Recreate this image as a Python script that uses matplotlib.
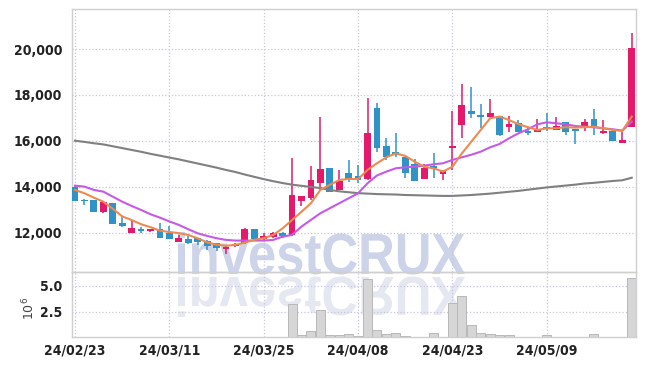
import matplotlib
matplotlib.use("Agg")
import matplotlib.pyplot as plt
import numpy as np
from matplotlib.textpath import TextPath
from matplotlib.patches import PathPatch
from matplotlib.font_manager import FontProperties
from matplotlib.ticker import FuncFormatter
import matplotlib.transforms as mtransforms

# daily candles, 24/02/23 .. 24/05/23 (trading days only)
opens = [14000, 13450, 13430, 12930, 13300, 12450, 12010, 12170, 12090, 12160,
         12010, 11620, 11750, 11780, 11660, 11550, 11320, 11410, 11550, 12170,
         11730, 11810, 12010, 11890, 13370, 13540, 14190, 14810, 13870, 14600,
         14480, 14340, 17420, 15780, 15530, 15290, 15000, 14360, 14900, 14570,
         15700, 16700, 17300, 17140, 17060, 17090, 16620, 16770, 16450, 16390,
         16590, 16480, 16810, 16510, 16620, 16960, 16340, 16430, 15930, 16620]
highs = [14040, 13480, 13450, 13400, 13320, 12700, 12560, 12250, 12190, 12420,
         12280, 11910, 11870, 11800, 11700, 11560, 11420, 11560, 12200, 12180,
         12010, 12060, 12060, 15250, 13620, 14910, 17030, 14830, 14740, 15170,
         14960, 17860, 17640, 16120, 16330, 15300, 15200, 15000, 15490, 14720,
         17320, 18480, 18360, 17610, 17810, 17100, 17100, 16910, 16550, 16960,
         17230, 17060, 16830, 16540, 16940, 17380, 16910, 16440, 16400, 20700]
lows = [13380, 13220, 12900, 12850, 12400, 12270, 12000, 12010, 12060, 11780,
        11720, 11600, 11540, 11480, 11260, 11220, 11090, 11380, 11520, 11720,
        11700, 11780, 11800, 11870, 13170, 13430, 13870, 13780, 13850, 14230,
        14160, 14300, 15530, 15170, 15290, 14380, 14260, 14350, 14380, 14300,
        14740, 16120, 17010, 16560, 17040, 16220, 16400, 16390, 16260, 16380,
        16450, 16470, 16260, 15870, 16430, 16260, 16290, 16000, 15920, 16600]
closes = [13400, 13400, 12930, 13350, 12400, 12320, 12230, 12090, 12170, 11800,
          11730, 11780, 11550, 11620, 11410, 11360, 11400, 11520, 12170, 11740,
          11870, 11990, 11850, 13650, 13610, 14300, 14770, 13800, 14260, 14310,
          14310, 16360, 15680, 15320, 15390, 14620, 14270, 14840, 14820, 14700,
          15770, 17560, 17160, 17060, 17230, 16260, 16740, 16400, 16360, 16510,
          16510, 16650, 16400, 16450, 16830, 16580, 16440, 16020, 16040, 20030]
volumes = [0.01, 0.01, 0.01, 0.01, 0.08, 0.01, 0.01, 0.01, 0.01, 0.01,
           0.06, 0.01, 0.01, 0.01, 0.01, 0.01, 0.01, 0.01, 0.06, 0.01,
           0.01, 0.01, 0.01, 3.19, 0.20, 0.62, 2.64, 0.24, 0.20, 0.34,
           0.17, 5.63, 0.72, 0.34, 0.40, 0.10, 0.05, 0.05, 0.40, 0.05,
           3.29, 3.99, 1.20, 0.40, 0.31, 0.24, 0.20, 0.08, 0.08, 0.05,
           0.20, 0.06, 0.05, 0.05, 0.06, 0.34, 0.06, 0.05, 0.05, 5.69]

# moving averages as drawn on the chart
ma_short = [13870, 13725, 13535, 13360, 13050, 12720, 12560, 12380, 12250, 12100,
            12040, 11990, 11910, 11770, 11590, 11490, 11440, 11480, 11580, 11700,
            11770, 11910, 12200, 12560, 12920, 13290, 13870, 14090, 14300, 14350,
            14340, 14740, 15030, 15290, 15460, 15350, 15100, 14880, 14810, 14670,
            14880, 15460, 15970, 16480, 16990, 17060, 16910, 16730, 16600, 16480,
            16550, 16550, 16600, 16580, 16600, 16620, 16550, 16480, 16440, 17060]
ma_mid = [14057, 14014, 13870, 13796, 13578, 13360, 13174, 13000, 12812, 12665,
          12500, 12350, 12160, 11985, 11870, 11770, 11696, 11667, 11667, 11667,
          11667, 11696, 11840, 11913, 12275, 12565, 12855, 13072, 13290, 13507,
          13724, 14160, 14500, 14667, 14812, 14855, 14884, 14928, 14986, 15030,
          15174, 15290, 15400, 15535, 15725, 15870, 16117, 16334, 16508, 16725,
          16812, 16770, 16725, 16652, 16622, 16595, 16550, 16508, 16450, 16840]
ma_long = [16010, 15960, 15900, 15850, 15770, 15690, 15610, 15530, 15440, 15360,
           15280, 15200, 15110, 15020, 14930, 14840, 14740, 14650, 14540, 14440,
           14340, 14250, 14170, 14100, 14050, 14000, 13950, 13870, 13810, 13770,
           13730, 13710, 13690, 13680, 13670, 13650, 13640, 13630, 13620, 13610,
           13610, 13630, 13650, 13680, 13710, 13750, 13790, 13830, 13880, 13930,
           13980, 14020, 14060, 14100, 14150, 14180, 14220, 14260, 14290, 14400]

tick_pos = [0, 10, 20, 30, 40, 50]
tick_labels = ["24/02/23", "24/03/11", "24/03/25", "24/04/08", "24/04/23", "24/05/09"]
price_ticks = [12000, 14000, 16000, 18000, 20000]
vol_ticks = [2.5, 5.0]

UP = "#e5196b"
DOWN = "#2f93c8"
GRID = "#c6c6e0"
SPINE = "#cfcfcf"
label_font = {"family": "DejaVu Sans", "stretch": "condensed", "weight": "semibold", "size": 10}

fig = plt.figure(figsize=(6.45, 3.66), dpi=100)
ax = fig.add_axes([0.1116, 0.2568, 0.8744, 0.7186])
axv = fig.add_axes([0.1116, 0.0779, 0.8744, 0.1789], sharex=ax)
for a in (ax, axv):
    a.set_facecolor("none")
    for s in a.spines.values():
        s.set_color(SPINE)
        s.set_linewidth(1.0)
    a.grid(True, color=GRID, linestyle=":", linewidth=0.9)
    a.set_axisbelow(True)
    a.tick_params(length=0)

x = np.arange(len(opens))
o = np.array(opens)
c = np.array(closes)
colors = [UP if cc >= oo else DOWN for oo, cc in zip(opens, closes)]

ax.vlines(x, lows, highs, colors=colors, linewidth=1.1, zorder=2)
ax.bar(x, np.abs(c - o), bottom=np.minimum(o, c), width=0.72, color=colors, zorder=3)
ax.plot(x, ma_long, color="#808080", linewidth=1.5, zorder=4)
ax.plot(x, ma_mid, color="#c55ae6", linewidth=1.5, zorder=4)
ax.plot(x, ma_short, color="#ee8a4f", linewidth=1.5, zorder=5)

ax.set_xlim(-0.32, 59.45)
ax.set_ylim(10300, 21740)
ax.set_yticks(price_ticks)
ax.yaxis.set_major_formatter(FuncFormatter(lambda v, p: f"{int(v):,}"))
ax.tick_params(axis="y", pad=7)
plt.setp(ax.get_xticklabels(), visible=False)
for t in ax.get_yticklabels():
    t.set(**label_font)
    t.set_color("#222222")

axv.bar(x, volumes, width=0.95, color="#d6d6d6", edgecolor="#b8b8b8", linewidth=0.7, zorder=2)
axv.set_ylim(0, 6.3)
axv.set_yticks(vol_ticks)
axv.set_yticklabels([f"{v:.1f}" for v in vol_ticks], **label_font, color="#222222")
axv.set_xticks(tick_pos)
axv.set_xticklabels(tick_labels, **label_font, color="#222222")
axv.tick_params(axis="x", pad=4)
axv.tick_params(axis="y", pad=7)
axv.set_ylabel(r"$10^{6}$", fontsize=9, color="#444444")
axv.yaxis.set_label_coords(-0.062, 0.45)

# watermark with reflection
fp = FontProperties(family="Liberation Sans", weight="bold")
tp = TextPath((0, 0), "investCRUX", size=1, prop=fp)
ext = tp.get_extents()
sx = 287 / ext.width
sy = 42 / ext.ymax
H = 366
main_tr = mtransforms.Affine2D().translate(-ext.xmin, 0).scale(sx, sy).translate(178, H - 274)
refl_tr = mtransforms.Affine2D().translate(-ext.xmin, 0).scale(sx, -sy * 0.95).translate(178, H - 277)
wm = PathPatch(main_tr.transform_path(tp), facecolor="#cdd3e8", edgecolor="none",
               transform=mtransforms.IdentityTransform(), zorder=-1)
wm2 = PathPatch(refl_tr.transform_path(tp), facecolor="#e6e8f1", edgecolor="none",
                transform=mtransforms.IdentityTransform(), zorder=-1)
fig.add_artist(wm)
fig.add_artist(wm2)

fig.savefig("out.png", dpi=100)
